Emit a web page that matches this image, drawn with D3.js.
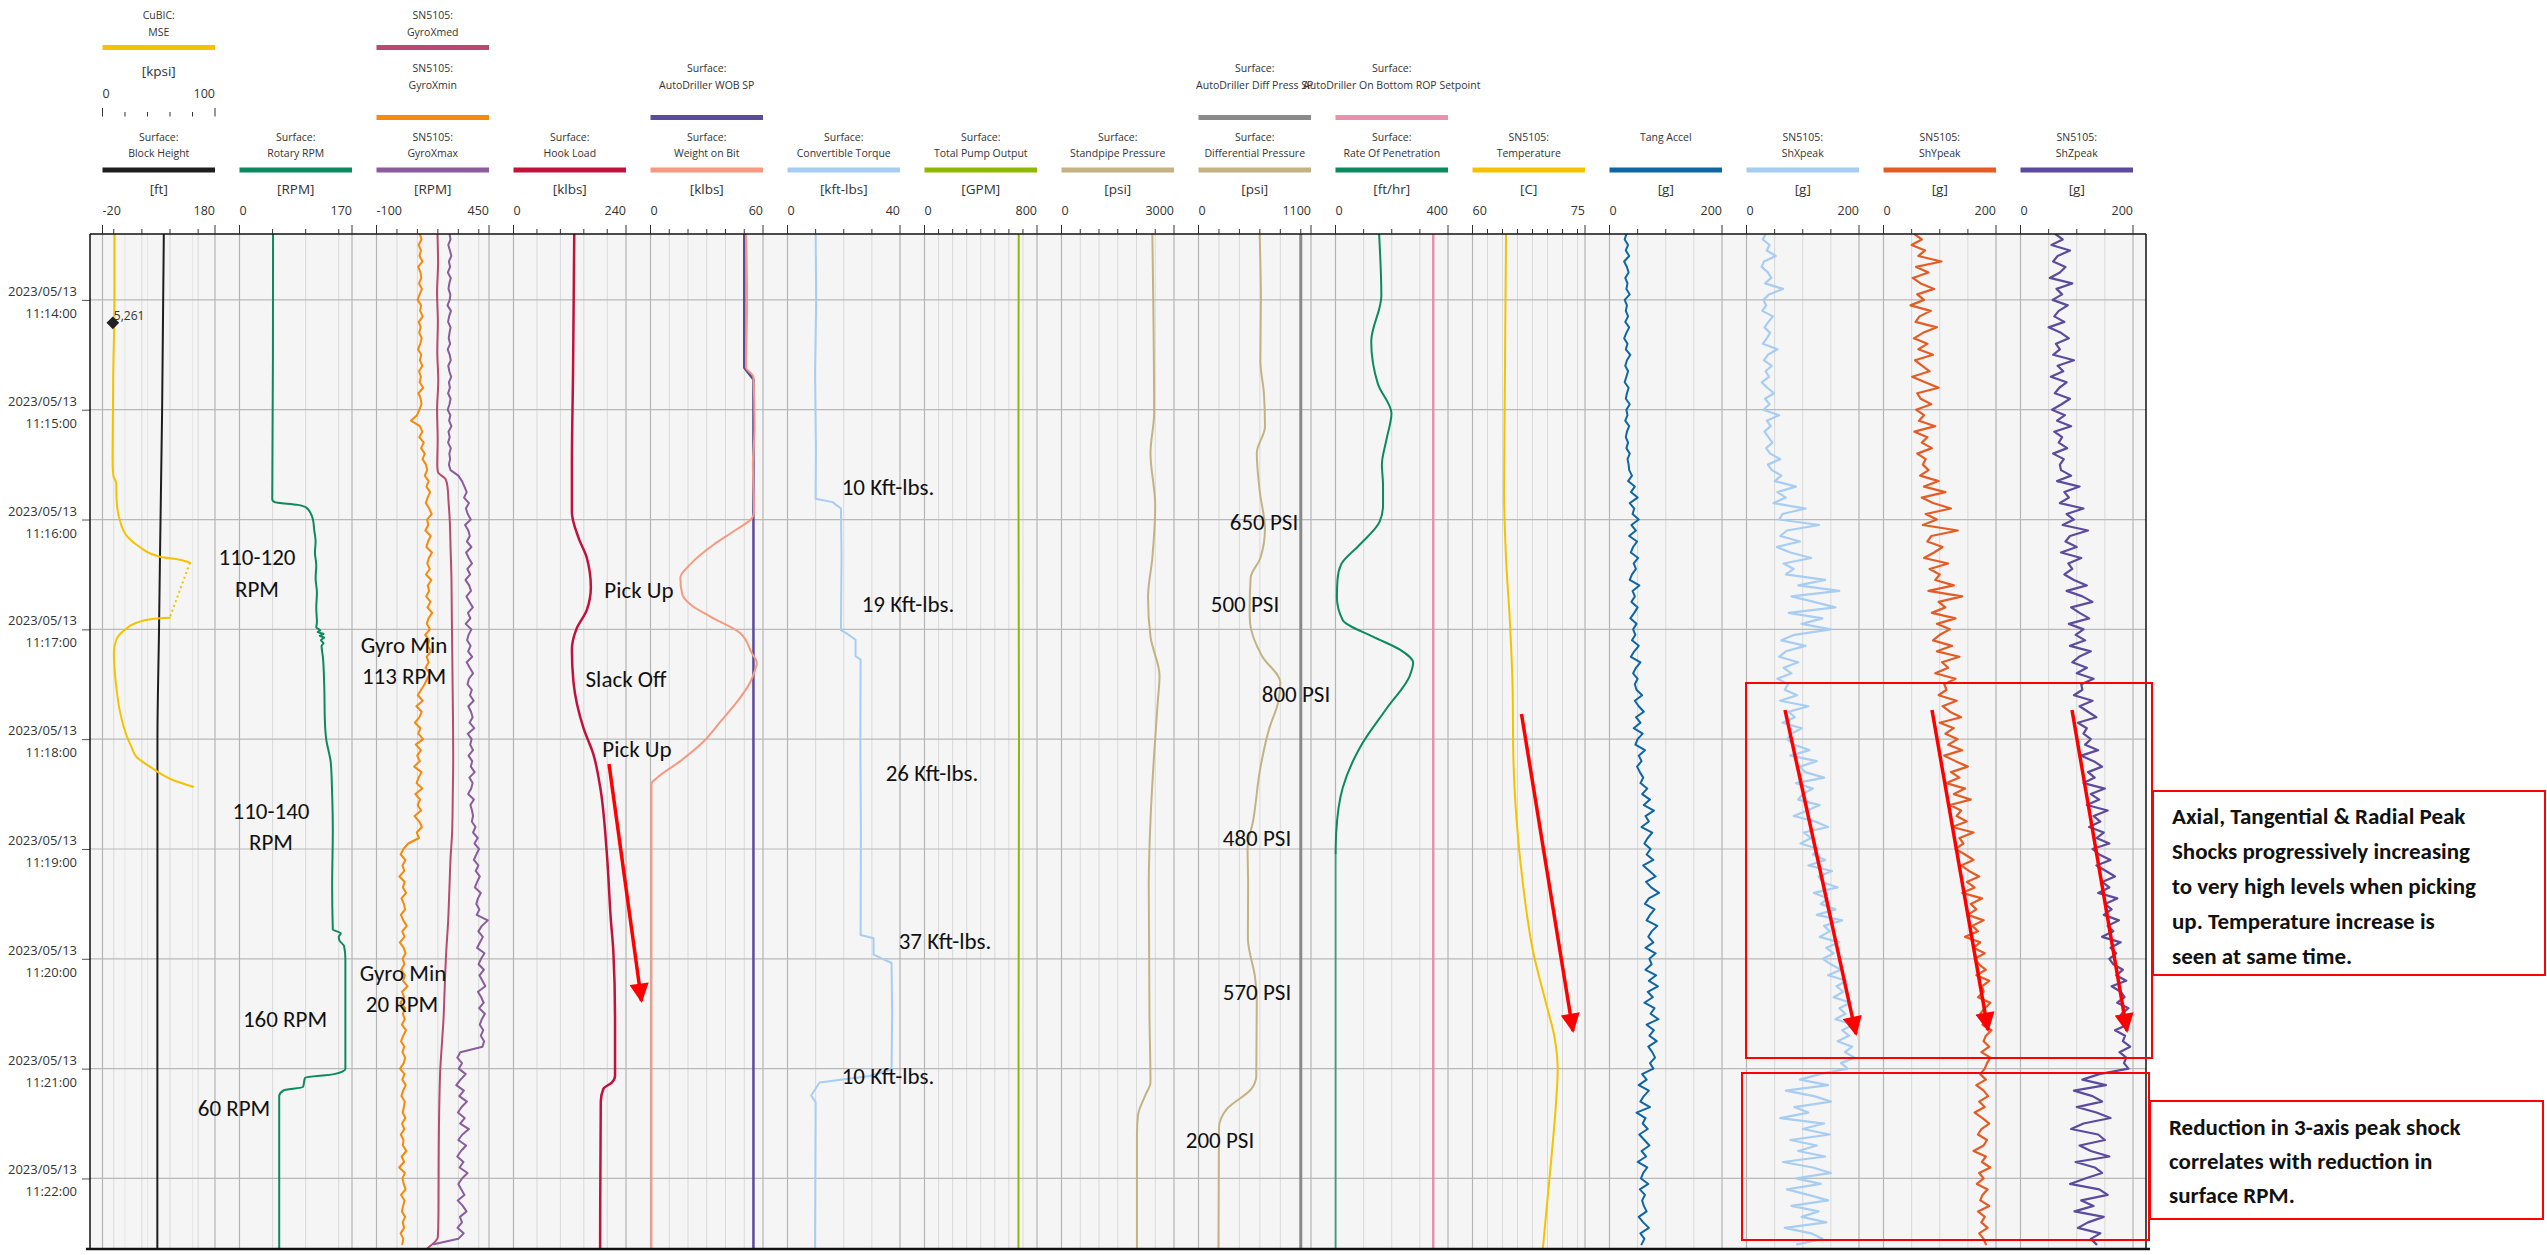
<!DOCTYPE html>
<html>
<head>
<meta charset="utf-8">
<script src="https://cdn.jsdelivr.net/npm/d3@7"></script>
<style>
  html, body { margin: 0; padding: 0; background: #fff; }
  svg { display: block; }
  .hdr { font-family: "Segoe UI", "Open Sans", sans-serif; fill: #333; }
  .note { font-family: Calibri, Lato, sans-serif; fill: #111; }
</style>
</head>
<body>
<svg id="chart" width="2547" height="1255"></svg>
<script>
// ---------------------------------------------------------------
// Drilling time log, 2023/05/13 11:13:24 - 11:22:38
// Times are seconds after 11:13:00; values are in each curve's unit.
// ---------------------------------------------------------------

const blockHeight = [[24,89],[120,86],[198,82.3],[240,80.5],[300,77.7],[578,77.5]];

// MSE (kpsi) - two recorded segments with a gap between them
const mseA = [[24,10.7],[60,10.7],[98,9.6],[147,8.9],[156,9.6],[160,12.2],[169,12.5],[180,15.2],
  [189.5,22.3],[195,33],[200.3,51],[202,68.8],[203.6,77.7]];
const mseB = [[233.6,59.8],[234,51],[235.8,33],[240.4,19.6],[245.8,12.2],[253,10.1],[271,12.2],
  [284,15.2],[300,22.6],[304,25.6],[309.6,30],[316,44.6],[318.6,51],[322.3,62.5],[326,80.6]];
const mseMarker = { t: 72.5, value: 9.2, label: "5,261" };

const rotaryRpm = [[24,50.7],[90,50.5],[169,49.5],[170.5,53],[172,88],[173.5,101],[177,108],[180,111],
  [186,113],[192,115],[198,114],[205,116],[212,115],[220,117],[228,116],[236,117],[239,116],[240.5,122],
  [241.5,118],[242.5,127],[243.5,121],[244.5,128],[246,123],[247.5,127],[249,124],[255,126],[270,128],
  [290,129],[300,131],[313,138],[330,140],[350,141],[380,140],[404,141],[406,153],[408,150],[410,151],
  [413,158],[420,160],[450,160],[480,160],[483,143],[485,99],[490,96],[492,66],[495,60],[578,60]];

const gyroXmed = [[24,198],[40,201],[56,196],[72,200],[88,197],[104,202],[120,196],[136,199],[150,197],
  [154,200],[158,238],[162,247],[170,252],[180,258],[195,262],[210,266],[230,268],[250,270],[270,272],
  [290,274],[310,275],[330,273],[350,270],[365,262],[380,257],[400,250],[416,241],[440,232],[452,228],
  [466,220],[480,212],[500,207],[530,204],[560,203],[572,200],[578,150]];

// high-rate channels, sampled every 3 s from 11:13:24
const sampleStart = 24, sampleStep = 3;

const gyroXmin = [112,120,106,117,110,125,104,115,119,108,122,111,101,118,113,126,107,116,109,121,
  114,103,119,112,124,108,117,111,128,105,116,120,110,98,
  68,
  112,124,109,131,118,136,125,142,
  148,136,155,144,162,150,141,158,170,147,153,139,165,152,144,171,156,148,160,142,
  168,151,157,143,164,149,172,154,146,161,138,158,150,166,145,155,140,162,148,135,
  118,102,126,95,121,110,88,115,104,128,92,117,99,112,84,120,106,96,124,90,
  113,101,118,86,109,122,97,108,
  55,
  32,18,41,27,36,12,38,29,45,22,34,40,19,31,48,26,37,14,33,42,
  28,36,21,39,30,52,25,35,17,41,29,38,24,44,31,20,36,27,40,33,
  15,37,26,43,30,22,38,34,28,41,25,36,19,32,29,46,23,35,11,39,
  27,33,42,20,37,30,24,40,28,35,18,31,26];

const gyroXmax = [257,262,251,259,266,254,260,249,263,256,252,261,258,247,264,255,250,262,257,253,
  260,248,258,263,251,256,265,254,259,250,262,257,248,261,255,266,252,258,250,263,
  256,260,254, 262, 300,
  318,330,341,328,352,337,346,361,333,349,356,342,364,338,351,367,344,358,335,353,
  362,340,355,371,347,359,336,364,350,343,360,348,368,341,356,372,352,345,366,357,
  375,349,362,370,355,378,346,365,358,372,350,368,361,380,354,370,363,348,376,359,
  367,372,
  366,384,372,395,379,401,388,376,398,385,405,392,381,410,396,388,403,390,444,415,
  398,420,406,392,428,411,399,425,403,418,432,396,412,424,402,430,415,405,422,410,
  426,418,
  310,
  295,318,302,336,311,290,327,305,342,316,298,331,309,352,320,300,338,313,295,325,
  306,345,318,300,315,330,297,322,340,308,318,296,326,300,180];

const tangAccel = [30,27,33,29,35,26,31,34,28,32,30,36,27,31,29,33,28,35,30,26,
  32,29,37,31,28,33,30,27,34,31,29,36,30,32,28,35,31,29,33,30,36,32,34,
  35,40,33,45,38,50,36,44,41,52,39,47,35,49,42,38,51,43,47,40,
  36,53,41,45,39,50,44,37,48,42,
  46,40,52,44,38,55,47,42,50,45,
  48,58,45,52,61,47,55,43,59,50,
  46,63,52,57,49,54,60,55,67,58,72,61,79,64,70,57,76,68,62,73,
  66,78,60,71,82,65,74,88,70,63,80,72,66,85,75,69,78,64,82,71,
  75,64,83,70,86,68,77,62,80,73,87,66,79,71,84,69,76,81,72,78,
  58,66,52,70,61,55,72,48,64,59,68,53,62,71,57,65,50,67,60,56,
  69,54,63,58,61,66,52,60,70,55,62,57];

const shXpeak = [34,29,41,36,52,31,27,38,44,33,65,40,30,35,28,47,39,32,42,36,
  29,55,38,31,45,34,40,27,37,49,33,41,30,58,36,43,32,39,46,35,42,60,38,
  45,62,50,88,55,70,48,105,64,58,129,72,60,95,54,78,115,66,84,70,
  140,92,165,80,120,158,75,135,98,150,
  85,62,105,70,58,92,66,80,55,74,
  68,90,60,110,75,86,64,98,80,72,
  85,112,78,125,95,104,138,88,118,100,92,130,108,84,122,145,102,115,96,128,
  118,140,110,152,128,135,162,120,145,132,158,125,170,138,148,130,165,142,155,136,
  150,168,145,178,160,172,155,185,165,176,158,190,170,182,162,188,175,192,168,180,
  130,95,145,70,120,150,85,110,60,138,100,148,78,125,92,140,65,118,150,88,
  132,72,110,145,80,128,98,142,68,115,135,90];

const shYpeak = [55,68,50,74,62,103,58,80,52,66,90,60,72,48,84,64,57,95,70,54,
  78,62,88,56,69,82,51,74,98,60,66,85,58,72,63,92,55,78,68,86,60,75,70,
  80,65,98,72,110,68,88,120,75,95,70,132,85,78,105,90,72,115,82,100,
  92,125,80,140,98,110,86,128,95,118,
  100,88,122,95,135,104,115,92,128,108,
  112,98,130,105,118,138,100,125,110,132,
  115,140,108,128,150,120,135,112,145,125,155,118,138,130,148,122,160,135,142,128,
  145,160,138,152,170,148,162,140,175,155,165,150,178,158,168,145,172,160,180,162,
  170,182,165,188,175,178,168,190,180,172,186,176,192,182,178,188,174,190,184,180,
  172,182,165,178,186,170,180,162,176,188,174,168,184,178,160,182,175,190,170,178,
  166,185,176,172,188,168,180,174,185,170,178,182];

const shZpeak = [62,75,55,88,66,58,80,70,52,92,64,74,57,84,68,60,78,50,72,86,
  63,70,58,95,66,76,54,82,69,61,88,73,56,79,65,90,60,74,68,83,58,77,70,
  72,90,65,105,78,86,70,112,82,95,75,120,88,80,100,72,108,85,92,78,
  95,118,82,110,128,90,105,122,86,112,
  98,115,88,125,104,92,118,100,130,108,
  110,95,128,105,120,135,102,118,112,125,
  115,138,108,130,145,120,132,112,150,125,140,118,155,130,142,122,148,135,158,128,
  140,160,135,152,168,145,158,138,172,150,162,148,175,155,165,145,178,160,170,158,
  165,182,170,188,162,178,185,172,192,180,175,190,168,186,182,195,176,188,184,192,
  140,110,152,95,128,145,100,135,160,112,90,138,150,105,125,158,98,132,145,115,
  88,140,155,108,130,96,148,120,102,142,125,135];

const hookLoad = [[24,129.6],[100,127],[150,124.6],[176,124.6],[190,138.8],[201,156.5],[217,165],
  [229.4,156.5],[240,134],[251,124.6],[269,128],[294,149.4],[308.4,170.6],[326,184.8],[362,199],
  [398,207.5],[416,213],[452,216.6],[484,216.6],[487.6,209.6],[491,191.8],[498,186.2],[578,184.8]];

const wobSetpoint = [[24,50],[97,50],[103.5,54.9],[578,54.9]];
const weightOnBit = [[24,51],[60,51.5],[97,51],[102,54.9],[130,55.5],[150,54.6],[176,55.2],[179.4,54],
  [186,45],[193.8,33.6],[204.5,21.2],[211.7,15.9],[220.7,16.9],[227,22],[233,31.9],[242,47.8],[253,54],
  [258.3,56.7],[263,55.5],[269,53.1],[279.8,46],[290.5,37.2],[301.3,28.3],[312,15.9],[321,3.6],
  [324.5,0.5],[578,0.5]];

const torque = [[24,10],[60,10.2],[100,9.8],[140,10.1],[168.7,10],[170.5,16],[174,19],[200,19.2],
  [240.4,19],[242.2,21],[245.7,24.2],[254.7,24.2],[256.5,26],[300,25.9],[350,26.1],[407,26],
  [408.8,30.6],[417.7,30.6],[422.3,37],[450,37.2],[480.4,37],[484,29.2],[487.6,11.4],[494.7,8.4],
  [498.3,10],[578,9.8]];

const pumpOutput = [[24,670],[150,668],[300,672],[450,669],[578,668]];

const standpipe = [[24,2422],[122,2470],[143.6,2373],[172.3,2499],[201,2422],[222.4,2307],[244,2373],
  [265.4,2614],[279.8,2566],[308.4,2470],[344.3,2373],[380,2327],[451.7,2346],[487.6,2373],
  [494.7,2231],[505.4,2040],[516.2,2012],[578,2012]];

const diffSetpoint = [[24,1000],[578,1000]];
const diffPressure = [[24,598],[60,610],[93.4,605],[111.4,640],[129.3,650],[143.6,570],[165,600],
  [185,650],[201,605],[211.7,510],[230,500],[236.8,505],[254.7,622],[269,800],[279.8,779],[294.1,692],
  [315.6,605],[344.3,535],[360,480],[380,485],[408.8,483],[430.2,553],[442,570],[484,565],[491.1,517],
  [501.9,280],[512.6,200],[578,195]];

const ropSetpoint = [[24,347.5],[578,347.5]];
const ropDrilling = [[24,155],[57.7,163],[82.8,127],[106,151],[122,199],[136.4,181],[150,165],
  [161.5,169],[172.3,169],[181.2,157],[193.8,86],[204.5,20],[213,7],[222.4,5],[235,26],[244,133],
  [251.1,229],[258.3,276],[265.4,264],[283.4,181],[304.8,86],[326.4,26],[351.4,2.4],[362.2,0.5]];
const ropOffBottom = [[362.2,0.5],[578,0.5]];

const temperature = [[24,64.47],[93.4,64.34],[165.1,64.21],[201,64.47],[236.8,65.0],[272.6,65.35],
  [308.4,65.44],[344.3,65.88],[380,66.75],[415.9,68.07],[444.6,69.82],[462.5,70.92],[480.4,71.36],
  [498.3,71.14],[530.5,70.48],[559.2,69.82],[578,69.39]];

const sampled = vals => vals.map((v, i) => [sampleStart + sampleStep * i, v]);

// ---------------------------------------------------------------
// Curve table: track, header row, header text, scale and colour
// ---------------------------------------------------------------
const curves = [
  { track: 0, row: "C", lines: ["Surface:", "Block Height"], unit: "[ft]", domain: [-20, 180], ticks: 4, color: "#1e1e1e", data: blockHeight, w: 2 },
  { track: 0, row: "A", lines: ["CuBIC:", "MSE"], unit: "[kpsi]", domain: [0, 100], ticks: 5, color: "#f5c200", segments: [mseA, mseB], bridge: true, w: 2 },
  { track: 1, row: "C", lines: ["Surface:", "Rotary RPM"], unit: "[RPM]", domain: [0, 170], ticks: 4, color: "#0b8a5d", data: rotaryRpm, w: 2 },
  { track: 2, row: "A", lines: ["SN5105:", "GyroXmed"], domain: [-100, 450], color: "#b84a72", data: gyroXmed, w: 2 },
  { track: 2, row: "B", lines: ["SN5105:", "GyroXmin"], domain: [-100, 450], color: "#f58a0b", data: sampled(gyroXmin), w: 2, raw: true },
  { track: 2, row: "C", lines: ["SN5105:", "GyroXmax"], unit: "[RPM]", domain: [-100, 450], ticks: 5, color: "#8b5c9e", data: sampled(gyroXmax), w: 2, raw: true },
  { track: 3, row: "C", lines: ["Surface:", "Hook Load"], unit: "[klbs]", domain: [0, 240], ticks: 5, color: "#c2123c", data: hookLoad, w: 2.5 },
  { track: 4, row: "B", lines: ["Surface:", "AutoDriller WOB SP"], domain: [0, 60], color: "#5c4b9c", data: wobSetpoint, w: 2.5, raw: true },
  { track: 4, row: "C", lines: ["Surface:", "Weight on Bit"], unit: "[klbs]", domain: [0, 60], ticks: 6, color: "#f59a80", data: weightOnBit, w: 2 },
  { track: 5, row: "C", lines: ["Surface:", "Convertible Torque"], unit: "[kft-lbs]", domain: [0, 40], ticks: 4, color: "#a7cdf2", data: torque, w: 2, raw: true },
  { track: 6, row: "C", lines: ["Surface:", "Total Pump Output"], unit: "[GPM]", domain: [0, 800], ticks: 8, color: "#8fb800", data: pumpOutput, w: 2 },
  { track: 7, row: "C", lines: ["Surface:", "Standpipe Pressure"], unit: "[psi]", domain: [0, 3000], ticks: 6, color: "#c4b283", data: standpipe, w: 2 },
  { track: 8, row: "B", lines: ["Surface:", "AutoDriller Diff Press SP"], domain: [0, 1100], color: "#8a8a8a", data: diffSetpoint, w: 3, raw: true },
  { track: 8, row: "C", lines: ["Surface:", "Differential Pressure"], unit: "[psi]", domain: [0, 1100], ticks: 5, color: "#c4b283", data: diffPressure, w: 2 },
  { track: 9, row: "B", lines: ["Surface:", "AutoDriller On Bottom ROP Setpoint"], domain: [0, 400], color: "#e990ad", data: ropSetpoint, w: 2.5, raw: true },
  { track: 9, row: "C", lines: ["Surface:", "Rate Of Penetration"], unit: "[ft/hr]", domain: [0, 400], ticks: 4, color: "#0b8a5d", segments: [ropDrilling, ropOffBottom], fadeLast: true, w: 2 },
  { track: 10, row: "C", lines: ["SN5105:", "Temperature"], unit: "[C]", domain: [60, 75], ticks: 8, color: "#f5c200", data: temperature, w: 2 },
  { track: 11, row: "C", lines: ["Tang Accel"], unit: "[g]", domain: [0, 200], ticks: 4, color: "#0e66a4", data: sampled(tangAccel), w: 2, raw: true },
  { track: 12, row: "C", lines: ["SN5105:", "ShXpeak"], unit: "[g]", domain: [0, 200], ticks: 4, color: "#a7cdf2", data: sampled(shXpeak), w: 2.2, raw: true },
  { track: 13, row: "C", lines: ["SN5105:", "ShYpeak"], unit: "[g]", domain: [0, 200], ticks: 4, color: "#e45c25", data: sampled(shYpeak), w: 2.2, raw: true },
  { track: 14, row: "C", lines: ["SN5105:", "ShZpeak"], unit: "[g]", domain: [0, 200], ticks: 4, color: "#5c4b9c", data: sampled(shZpeak), w: 2.2, raw: true }
];

// Annotations written on the log
const notes = [
  { text: "110-120", x: 257, y: 565 }, { text: "RPM", x: 257, y: 597 },
  { text: "Gyro Min", x: 404, y: 653 }, { text: "113 RPM", x: 404, y: 684 },
  { text: "110-140", x: 271, y: 819 }, { text: "RPM", x: 271, y: 850 },
  { text: "Gyro Min", x: 403, y: 981 }, { text: "20 RPM", x: 402, y: 1012 },
  { text: "160 RPM", x: 285, y: 1027 }, { text: "60 RPM", x: 234, y: 1116 },
  { text: "Pick Up", x: 639, y: 598 }, { text: "Slack Off", x: 626, y: 687 }, { text: "Pick Up", x: 637, y: 757 },
  { text: "10 Kft-lbs.", x: 888, y: 495 }, { text: "19 Kft-lbs.", x: 908, y: 612 },
  { text: "26 Kft-lbs.", x: 932, y: 781 }, { text: "37 Kft-lbs.", x: 945, y: 949 },
  { text: "10 Kft-lbs.", x: 888, y: 1084 },
  { text: "650 PSI", x: 1264, y: 530 }, { text: "500 PSI", x: 1245, y: 612 },
  { text: "800 PSI", x: 1296, y: 702 }, { text: "480 PSI", x: 1257, y: 846 },
  { text: "570 PSI", x: 1257, y: 1000 }, { text: "200 PSI", x: 1220, y: 1148 }
];
const calloutTop = ["Axial, Tangential & Radial Peak", "Shocks progressively increasing",
  "to very high levels when picking", "up. Temperature increase is", "seen at same time."];
const calloutBottom = ["Reduction in 3-axis peak shock", "correlates with reduction in", "surface RPM."];

// ---------------------------------------------------------------
// Layout
// ---------------------------------------------------------------
const svg = d3.select("#chart");
const plot = { l: 90, r: 2146, t: 234, b: 1248 };
const trackLeft = d3.scaleLinear().domain([0, 1]).range([102.5, 239.5]);
const trackW = 112.5;
const rowY = {
  A: { l1: 19, l2: 36, bar: 47.5, unit: 76, scale: 98, tick: 117 },
  B: { l1: 72, l2: 89, bar: 117.5 },
  C: { l1: 141, l2: 157, bar: 170, unit: 194, scale: 215, tick: 234 }
};

const BASE = new Date(2023, 4, 13, 11, 13, 0);
const toDate = s => new Date(BASE.getTime() + s * 1000);
const y = d3.scaleTime().domain([toDate(24), toDate(578)]).range([plot.t, plot.b]);

curves.forEach(c => {
  const x0 = trackLeft(c.track);
  c.x = d3.scaleLinear().domain(c.domain).range([x0, x0 + trackW]);
});

// plot background
svg.append("rect").attr("x", plot.l).attr("y", plot.t)
  .attr("width", plot.r - plot.l).attr("height", plot.b - plot.t).attr("fill", "#f5f5f5");

// vertical grid from each scaled curve
const grid = svg.append("g");
curves.filter(c => c.unit).forEach(c => {
  const inner = c.x.ticks(c.ticks).filter(v => v > c.domain[0] && v < c.domain[1]);
  grid.selectAll(null).data(inner).join("line")
    .attr("x1", d => c.x(d)).attr("x2", d => c.x(d))
    .attr("y1", plot.t).attr("y2", plot.b)
    .attr("stroke", c.row === "A" ? "#e6e6e6" : "#d9d9d9").attr("stroke-width", 1);
});
d3.range(15).forEach(i => {
  [trackLeft(i), trackLeft(i) + trackW].forEach(xv => {
    grid.append("line").attr("x1", xv).attr("x2", xv).attr("y1", plot.t).attr("y2", plot.b)
      .attr("stroke", "#b4b4b4").attr("stroke-width", 1.2);
  });
});

// horizontal minute grid
const minutes = y.ticks(d3.timeMinute.every(1));
grid.selectAll(null).data(minutes).join("line")
  .attr("x1", plot.l).attr("x2", plot.r).attr("y1", d => y(d)).attr("y2", d => y(d))
  .attr("stroke", "#b9b9b9").attr("stroke-width", 1.2);

// time axis
const axisG = svg.append("g").attr("transform", `translate(${plot.l},0)`)
  .call(d3.axisLeft(y).tickValues(minutes).tickSize(8).tickFormat(""));
axisG.select(".domain").remove();
axisG.selectAll(".tick line").attr("stroke", "#555");
const fmtDate = d3.timeFormat("%Y/%m/%d"), fmtTime = d3.timeFormat("%H:%M:%S");
const lbl = svg.append("g").attr("class", "hdr").attr("font-size", 13).attr("text-anchor", "end").attr("fill", "#444");
lbl.selectAll(null).data(minutes).join("text").attr("x", 77).attr("y", d => y(d) - 4).text(fmtDate);
lbl.selectAll(null).data(minutes).join("text").attr("x", 77).attr("y", d => y(d) + 18).text(fmtTime);

// ---------------------------------------------------------------
// Curves
// ---------------------------------------------------------------
svg.append("clipPath").attr("id", "plotClip").append("rect")
  .attr("x", plot.l).attr("y", plot.t).attr("width", plot.r - plot.l).attr("height", plot.b - plot.t);
const curveG = svg.append("g").attr("clip-path", "url(#plotClip)");

curves.forEach(c => {
  const line = d3.line().x(d => c.x(d[1])).y(d => y(toDate(d[0])))
    .curve(c.raw ? d3.curveLinear : d3.curveMonotoneY);
  const sets = c.segments || [c.data];
  sets.forEach((s, k) => {
    curveG.append("path").datum(s).attr("d", line).attr("fill", "none")
      .attr("stroke", c.color).attr("stroke-width", c.w)
      .attr("stroke-opacity", c.fadeLast && k === sets.length - 1 ? 0.65 : 1)
      .attr("stroke-linejoin", "round").attr("stroke-linecap", "round");
  });
  if (c.bridge) {
    // dotted bridge across the gap between segments
    const a = c.segments[0][c.segments[0].length - 1], b = c.segments[1][0];
    curveG.append("path").datum([a, b]).attr("d", d3.line().x(d => c.x(d[1])).y(d => y(toDate(d[0]))))
      .attr("stroke", c.color).attr("stroke-width", 2).attr("stroke-dasharray", "2,3").attr("fill", "none");
    // depth marker on the MSE curve
    const mx = c.x(mseMarker.value), my = y(toDate(mseMarker.t));
    curveG.append("rect").attr("x", mx - 4.5).attr("y", my - 4.5).attr("width", 9).attr("height", 9)
      .attr("transform", `rotate(45,${mx},${my})`).attr("fill", "#222");
    svg.append("text").attr("class", "hdr").attr("x", mx + 1).attr("y", my - 3)
      .attr("font-size", 12).text(mseMarker.label);
  }
});

// ---------------------------------------------------------------
// Header
// ---------------------------------------------------------------
const hdr = svg.append("g").attr("class", "hdr");
curves.forEach(c => {
  const r = rowY[c.row];
  const [x0, x1] = c.x.range(), xm = (x0 + x1) / 2;
  hdr.append("text").attr("x", xm).attr("y", r.l1).attr("text-anchor", "middle")
    .attr("font-size", 10.5).text(c.lines[0]);
  if (c.lines[1]) hdr.append("text").attr("x", xm).attr("y", r.l2).attr("text-anchor", "middle")
    .attr("font-size", 10.5).text(c.lines[1]);
  hdr.append("rect").attr("x", x0).attr("y", r.bar - 2.5).attr("width", x1 - x0).attr("height", 5)
    .attr("fill", c.color);
  if (c.unit) {
    hdr.append("text").attr("x", xm).attr("y", r.unit).attr("text-anchor", "middle")
      .attr("font-size", 13.5).text(c.unit);
    hdr.append("text").attr("x", x0).attr("y", r.scale).attr("text-anchor", "start")
      .attr("font-size", 12.5).text(String(c.domain[0]));
    hdr.append("text").attr("x", x1).attr("y", r.scale).attr("text-anchor", "end")
      .attr("font-size", 12.5).text(String(c.domain[1]));
    const inner = c.x.ticks(c.ticks).filter(v => v > c.domain[0] && v < c.domain[1]);
    const tk = inner.map(v => ({ v, len: 5 })).concat(c.domain.map(v => ({ v, len: 9 })));
    hdr.selectAll(null).data(tk).join("line")
      .attr("x1", d => c.x(d.v)).attr("x2", d => c.x(d.v))
      .attr("y1", r.tick - 0.5).attr("y2", d => r.tick - d.len)
      .attr("stroke", "#333").attr("stroke-width", 1);
  }
});

// frame
svg.append("line").attr("x1", plot.l).attr("x2", plot.r).attr("y1", plot.t).attr("y2", plot.t)
  .attr("stroke", "#111").attr("stroke-width", 1.5);
svg.append("line").attr("x1", plot.l).attr("x2", plot.l).attr("y1", plot.t).attr("y2", plot.b)
  .attr("stroke", "#111").attr("stroke-width", 1.5);
svg.append("line").attr("x1", plot.r).attr("x2", plot.r).attr("y1", plot.t).attr("y2", plot.b)
  .attr("stroke", "#111").attr("stroke-width", 1.5);
svg.append("line").attr("x1", plot.l - 4).attr("x2", plot.r + 4).attr("y1", plot.b + 1).attr("y2", plot.b + 1)
  .attr("stroke", "#111").attr("stroke-width", 2.5);

// ---------------------------------------------------------------
// Annotations
// ---------------------------------------------------------------
const noteG = svg.append("g").attr("class", "note").attr("font-size", 23);
noteG.selectAll(null).data(notes).join("text")
  .attr("x", d => d.x).attr("y", d => d.y).attr("text-anchor", "middle").text(d => d.text);

const defs = svg.append("defs");
defs.append("marker").attr("id", "arrowHead").attr("viewBox", "0 0 10 10")
  .attr("refX", 9).attr("refY", 5).attr("markerWidth", 6).attr("markerHeight", 5.5)
  .attr("markerUnits", "strokeWidth").attr("orient", "auto")
  .append("path").attr("d", "M0,0 L10,5 L0,10 Z").attr("fill", "#ff0000");

const arrows = [
  [[609, 764], [641.5, 1001]],
  [[1521.5, 714], [1573, 1031]],
  [[1785, 710], [1856, 1034]],
  [[1932, 710], [1988, 1030]],
  [[2072, 710], [2127, 1031]]
];
svg.append("g").selectAll(null).data(arrows).join("line")
  .attr("x1", d => d[0][0]).attr("y1", d => d[0][1]).attr("x2", d => d[1][0]).attr("y2", d => d[1][1])
  .attr("stroke", "#ff0000").attr("stroke-width", 3.5).attr("marker-end", "url(#arrowHead)");

// red outlines around the shock tracks
const boxG = svg.append("g").attr("fill", "none").attr("stroke", "#ff0000").attr("stroke-width", 2);
boxG.append("rect").attr("x", 1746).attr("y", 683).attr("width", 406).attr("height", 375);
boxG.append("rect").attr("x", 1742).attr("y", 1073).attr("width", 407).attr("height", 167);

// callout boxes
function callout(x, yTop, w, h, lines, y0, step) {
  const g = svg.append("g");
  g.append("rect").attr("x", x).attr("y", yTop).attr("width", w).attr("height", h)
    .attr("fill", "#fff").attr("stroke", "#ff0000").attr("stroke-width", 2);
  g.append("g").attr("class", "note").attr("font-size", 23).attr("font-weight", "bold")
    .selectAll(null).data(lines).join("text")
    .attr("x", x + 19).attr("y", (d, i) => y0 + i * step).text(d => d);
}
callout(2153, 791, 392, 184, calloutTop, 824, 35);
callout(2150, 1101, 393, 118, calloutBottom, 1135, 34);
</script>
</body>
</html>
